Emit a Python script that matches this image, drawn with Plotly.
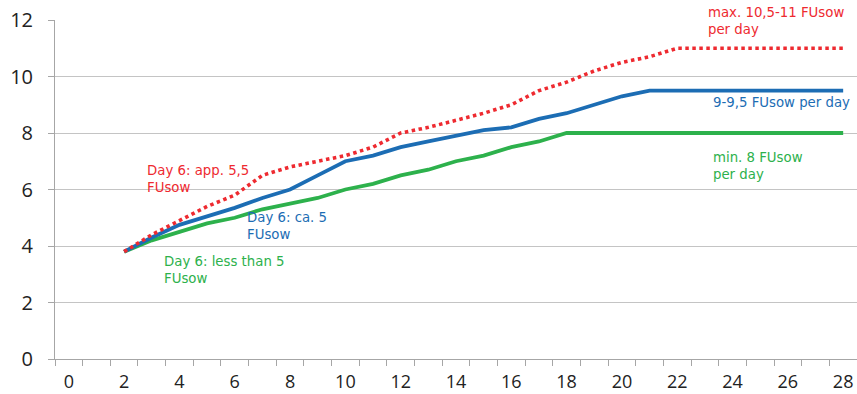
import plotly.graph_objects as go

days = list(range(2, 29))
max_series = [3.8, 4.4, 4.9, 5.4, 5.8, 6.5, 6.8, 7.0, 7.2, 7.5, 8.0, 8.2, 8.45, 8.7, 9.0, 9.5, 9.8, 10.2, 10.5, 10.7, 11.0, 11.0, 11.0, 11.0, 11.0, 11.0, 11.0]
mid_series = [3.8, 4.3, 4.75, 5.05, 5.35, 5.7, 6.0, 6.5, 7.0, 7.2, 7.5, 7.7, 7.9, 8.1, 8.2, 8.5, 8.7, 9.0, 9.3, 9.5, 9.5, 9.5, 9.5, 9.5, 9.5, 9.5, 9.5]
min_series = [3.8, 4.2, 4.5, 4.8, 5.0, 5.3, 5.5, 5.7, 6.0, 6.2, 6.5, 6.7, 7.0, 7.2, 7.5, 7.7, 8.0, 8.0, 8.0, 8.0, 8.0, 8.0, 8.0, 8.0, 8.0, 8.0, 8.0]
x_tick_labels = [str(v) for v in range(0, 29, 2)]
y_tick_labels = [str(v) for v in range(0, 13, 2)]

RED = "#EE2A30"
BLUE = "#1C6DB4"
GREEN = "#2DB14C"

fig = go.Figure()
fig.add_trace(go.Scatter(x=days, y=min_series, mode="lines",
                         line=dict(color=GREEN, width=3.8), hoverinfo="skip"))
fig.add_trace(go.Scatter(x=days, y=mid_series, mode="lines",
                         line=dict(color=BLUE, width=3.8), hoverinfo="skip"))
fig.add_trace(go.Scatter(x=days, y=max_series, mode="lines",
                         line=dict(color=RED, width=3.6, dash="3.5px,3.5px"), hoverinfo="skip"))

ann_font = "DejaVu Sans, Verdana, sans-serif"
notes = [
    ("max. 10,5-11 FUsow<br>per day", RED, 706, 3),
    ("9-9,5 FUsow per day", BLUE, 711, 93),
    ("min. 8 FUsow<br>per day", GREEN, 711, 148),
    ("Day 6: app. 5,5<br>FUsow", RED, 145, 161),
    ("Day 6: ca. 5<br>FUsow", BLUE, 245, 208),
    ("Day 6: less than 5<br>FUsow", GREEN, 162, 252),
]
for text, color, px, py in notes:
    fig.add_annotation(text=text, xref="paper", yref="paper",
                       x=(px - 55) / (857 - 55), y=1 - (py - 20) / (359 - 20),
                       xanchor="left", yanchor="top", showarrow=False, align="left",
                       font=dict(family=ann_font, size=13.3, color=color))

fig.update_layout(
    width=857, height=394,
    margin=dict(l=55, r=0, t=20, b=35, autoexpand=False),
    paper_bgcolor="white", plot_bgcolor="white",
    showlegend=False,
    xaxis=dict(range=[-0.5, 28.5], tickvals=list(range(0, 29, 2)), ticktext=x_tick_labels,
               ticks="", showgrid=False, zeroline=False, automargin=False,
               showline=True, linecolor="#A6A6A6", linewidth=1,
               minor=dict(ticks="outside", tick0=-0.5, dtick=1, ticklen=6,
                          tickcolor="#A6A6A6", showgrid=False),
               tickfont=dict(family="Open Sans, Liberation Sans, sans-serif",
                             size=18, color="#222222"),
               ticklabelstandoff=6,
               fixedrange=True),
    yaxis=dict(range=[0, 12], tickvals=list(range(0, 13, 2)), ticktext=y_tick_labels,
               ticks="outside", ticklen=6, tickcolor="#A6A6A6", automargin=False,
               showgrid=True, gridcolor="#C4C4C4", gridwidth=1, zeroline=False,
               showline=True, linecolor="#A6A6A6", linewidth=1,
               tickfont=dict(family="Open Sans, Liberation Sans, sans-serif", size=20, color="#222222"),
               ticklabelstandoff=11,
               fixedrange=True),
)

fig.write_html("out.html", config={"displayModeBar": False},
               post_script="document.body.style.margin='0';document.body.style.padding='0';")
